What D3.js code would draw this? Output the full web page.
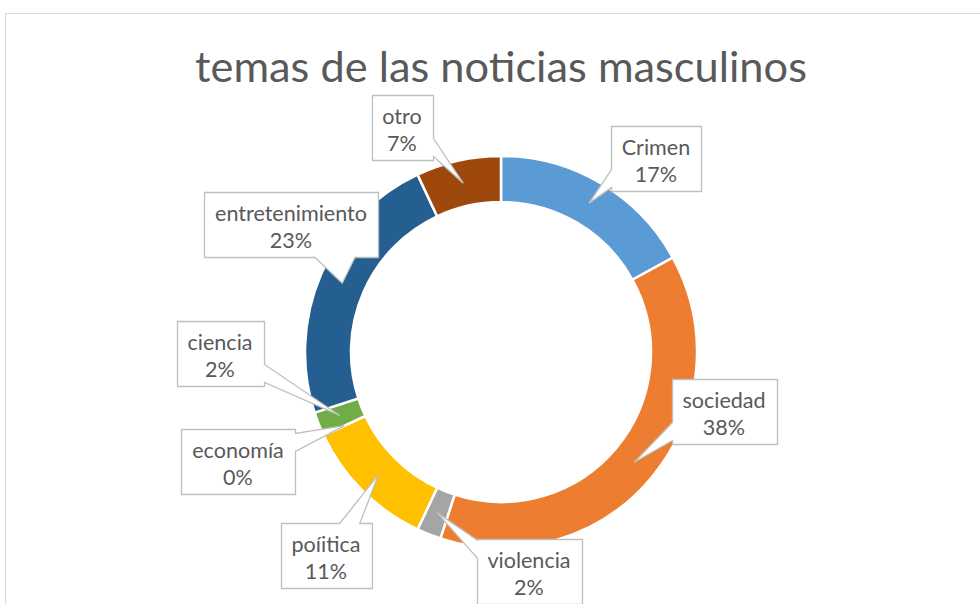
<!DOCTYPE html>
<html>
<head>
<meta charset="utf-8">
<script src="https://cdn.jsdelivr.net/npm/d3@7"></script>
<style>
  body { margin: 0; background: #fff; }
  text { font-family: Lato, "Open Sans", sans-serif; fill: #595959; }
</style>
</head>
<body>
<div id="chart"></div>
<script>
var categories = ["Crimen", "sociedad", "violencia", "poíitica", "economía", "ciencia", "entretenimiento", "otro"],
	values = [17, 38, 2, 11, 0, 2, 23, 7],
	percentLabels = ["17%", "38%", "2%", "11%", "0%", "2%", "23%", "7%"],
	colors = ["#5B9BD5", "#ED7D31", "#A5A5A5", "#FFC000", "#4472C4", "#70AD47", "#255E91", "#9E480E"];

// callout box centres (layout only)
var boxCenters = [[656, 158], [724, 411], [529, 571], [326, 555], [238, 461], [220, 353], [291, 224], [402, 127]];

var width = 980,
	height = 604,
	cx = 501,
	cy = 352,
	boxH = 65;

var svg = d3.select('#chart')
	.append('svg')
	.attr('width', width)
	.attr('height', height);

svg.append('rect')
	.attr('x', 5.5)
	.attr('y', 13.5)
	.attr('width', 1000)
	.attr('height', 700)
	.style('fill', '#fff')
	.style('stroke', '#d9d9d9');

var title = svg.append('text')
	.attr('x', cx)
	.attr('y', 82)
	.attr('text-anchor', 'middle')
	.style('font-size', '42px')
	.text('temas de las noticias masculinos');
// fit title to the reference width
var tl = title.node().getComputedTextLength();
title.style('font-size', (42 * 612 / tl) + 'px');

// label font size: fit the longest label to the reference width
var probe = svg.append('text').style('font-size', '20px').text('entretenimiento');
var labelSize = 20 * 152 / probe.node().getComputedTextLength();
probe.remove();

var pie = d3.pie().sort(null).value(function(d) { return d; }),
	arc = d3.arc().innerRadius(150).outerRadius(196),
	arcs = pie(values);

var g = svg.append('g')
	.attr('transform', 'translate(' + cx + ',' + cy + ')');

g.selectAll('path')
	.data(arcs)
	.enter()
	.append('path')
	.attr('d', arc)
	.style('fill', function(d, i) { return colors[i]; })
	.style('stroke', '#fff')
	.style('stroke-width', 2.5);

function clamp(v, a, b) { return Math.max(a, Math.min(b, v)); }

var labels = svg.append('g');

arcs.forEach(function(d, i) {
	var c = arc.centroid(d),
		tip = [c[0] + cx, c[1] + cy];

	var lg = labels.append('g');
	var shape = lg.append('path');
	var t1 = lg.append('text')
		.attr('text-anchor', 'middle')
		.style('font-size', labelSize + 'px')
		.text(categories[i]);
	var tw = t1.node().getComputedTextLength();
	var bw = Math.round(tw + 22),
		x0 = Math.round(boxCenters[i][0] - bw / 2) + 0.5,
		y0 = Math.round(boxCenters[i][1] - boxH / 2) + 0.5,
		x1 = x0 + bw,
		y1 = y0 + boxH;

	t1.attr('x', boxCenters[i][0]).attr('y', y0 + 28);
	lg.append('text')
		.attr('x', boxCenters[i][0])
		.attr('y', y0 + 55)
		.attr('text-anchor', 'middle')
		.style('font-size', labelSize + 'px')
		.text(percentLabels[i]);

	// which side the pointer leaves from
	var dl = x0 - tip[0], dr = tip[0] - x1, dt = y0 - tip[1], db = tip[1] - y1;
	var m = Math.max(dl, dr, dt, db), side;
	if (m === dl) side = 'left';
	else if (m === dr) side = 'right';
	else if (m === dt) side = 'top';
	else side = 'bottom';

	var p = d3.path();
	p.moveTo(x0, y0);
	if (side === 'top') {
		var bc = clamp(tip[0], x0 + bw * 0.25, x1 - bw * 0.25);
		p.lineTo(bc - 10, y0); p.lineTo(tip[0], tip[1]); p.lineTo(bc + 10, y0);
	}
	p.lineTo(x1, y0);
	if (side === 'right') {
		var bcr = clamp(tip[1], y0 + boxH * 0.2, y1 - boxH * 0.2);
		p.lineTo(x1, bcr - 9); p.lineTo(tip[0], tip[1]); p.lineTo(x1, bcr + 9);
	}
	p.lineTo(x1, y1);
	if (side === 'bottom') {
		var bcb = clamp(tip[0], x0 + bw * 0.25, x1 - bw * 0.25);
		p.lineTo(bcb + 20, y1); p.lineTo(tip[0], tip[1]); p.lineTo(bcb - 20, y1);
	}
	p.lineTo(x0, y1);
	if (side === 'left') {
		var bcl = clamp(tip[1], y0 + boxH * 0.15, y1 - boxH * 0.2);
		p.lineTo(x0, bcl + 9); p.lineTo(tip[0], tip[1]); p.lineTo(x0, bcl - 9);
	}
	p.closePath();

	shape.attr('d', p.toString())
		.style('fill', '#fff')
		.style('stroke', '#bfbfbf')
		.style('stroke-width', 1.3);
});
</script>
</body>
</html>
